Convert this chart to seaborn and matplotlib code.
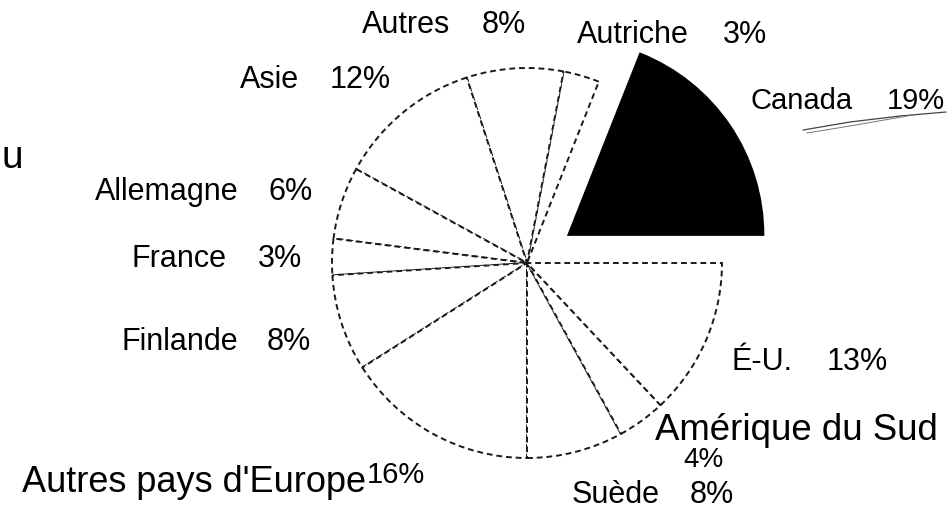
import matplotlib
matplotlib.use("Agg")
import matplotlib.pyplot as plt
import seaborn as sns

# ---- data ----
categories = ["Canada", "Autriche", "Autres", "Asie", "Allemagne", "France",
              "Finlande", "Autres pays d'Europe", "Suède", "Amérique du Sud", "É-U."]
shares = [19, 3, 8, 12, 6, 3, 8, 16, 8, 4, 13]
pct_labels = [f"{v}%" for v in shares]

sns.set_theme(style="white")
plt.rcParams['font.family'] = ['Liberation Sans', 'DejaVu Sans']
plt.rcParams['text.color'] = 'black'

W, H = 951, 509
fig = plt.figure(figsize=(W / 100, H / 100), dpi=100)
fig.patch.set_facecolor("white")
ax = fig.add_axes([0, 0, 1, 1])

faces = ["black"] + ["white"] * (len(shares) - 1)
explode = [50] + [0] * (len(shares) - 1)   # offset in pixels (data units)
wedges, _ = ax.pie(shares, colors=faces, explode=explode, startangle=0,
                   counterclock=True, center=(527, H - 263), radius=195,
                   wedgeprops=dict(edgecolor="#1a1a1a", linewidth=1.4,
                                   linestyle=(0, (3, 2))))
wedges[0].set_linestyle("-")
wedges[0].set_edgecolor("black")
ax.set_xlim(0, W)
ax.set_ylim(0, H)
ax.set_aspect("equal")
ax.axis("off")

# ---- label layout (pixel positions: name_x, pct_x, baseline_y, size) ----
layout = {
    "Canada": (751, 887, 109, 21),
    "Autriche": (577, 723, 43, 22),
    "Autres": (362, 482, 33, 22),
    "Asie": (240, 330, 88, 22),
    "Allemagne": (95, 268, 200, 22),
    "France": (132, 258, 267, 22),
    "Finlande": (122, 267, 350, 22),
    "Suède": (572, 690, 503, 22),
    "É-U.": (732, 827, 370, 22),
}

def px(x, y):
    return x / W, 1 - y / H

for name, pct in zip(categories, pct_labels):
    if name in layout:
        nx, pxx, by, fs = layout[name]
        fig.text(*px(nx, by), name, fontsize=fs, ha="left", va="baseline", color="black")
        fig.text(*px(pxx, by), pct, fontsize=fs, ha="left", va="baseline", color="black")

i_am = categories.index("Amérique du Sud")
fig.text(*px(655, 440), categories[i_am], fontsize=26.4, ha="left", va="baseline", color="black")
fig.text(*px(703, 467), pct_labels[i_am], fontsize=20, ha="center", va="baseline", color="black")

i_eu = categories.index("Autres pays d'Europe")
fig.text(*px(22, 492), categories[i_eu], fontsize=26, ha="left", va="baseline", color="black")
fig.text(*px(367, 483), pct_labels[i_eu], fontsize=21, ha="left", va="baseline", color="black")

# partial letter at the left edge of the scan
fig.text(*px(1, 168), "u", fontsize=28, ha="left", va="baseline", color="black")

# hand-drawn double underline under "Canada 19%"
ax.plot([803, 850, 900, 946], [H - 130, H - 122, H - 116, H - 112],
        color="#444", lw=0.9)
ax.plot([807, 850, 913], [H - 133, H - 126, H - 115],
        color="#777", lw=0.7)

fig.savefig("out.png", dpi=100, facecolor="white")
